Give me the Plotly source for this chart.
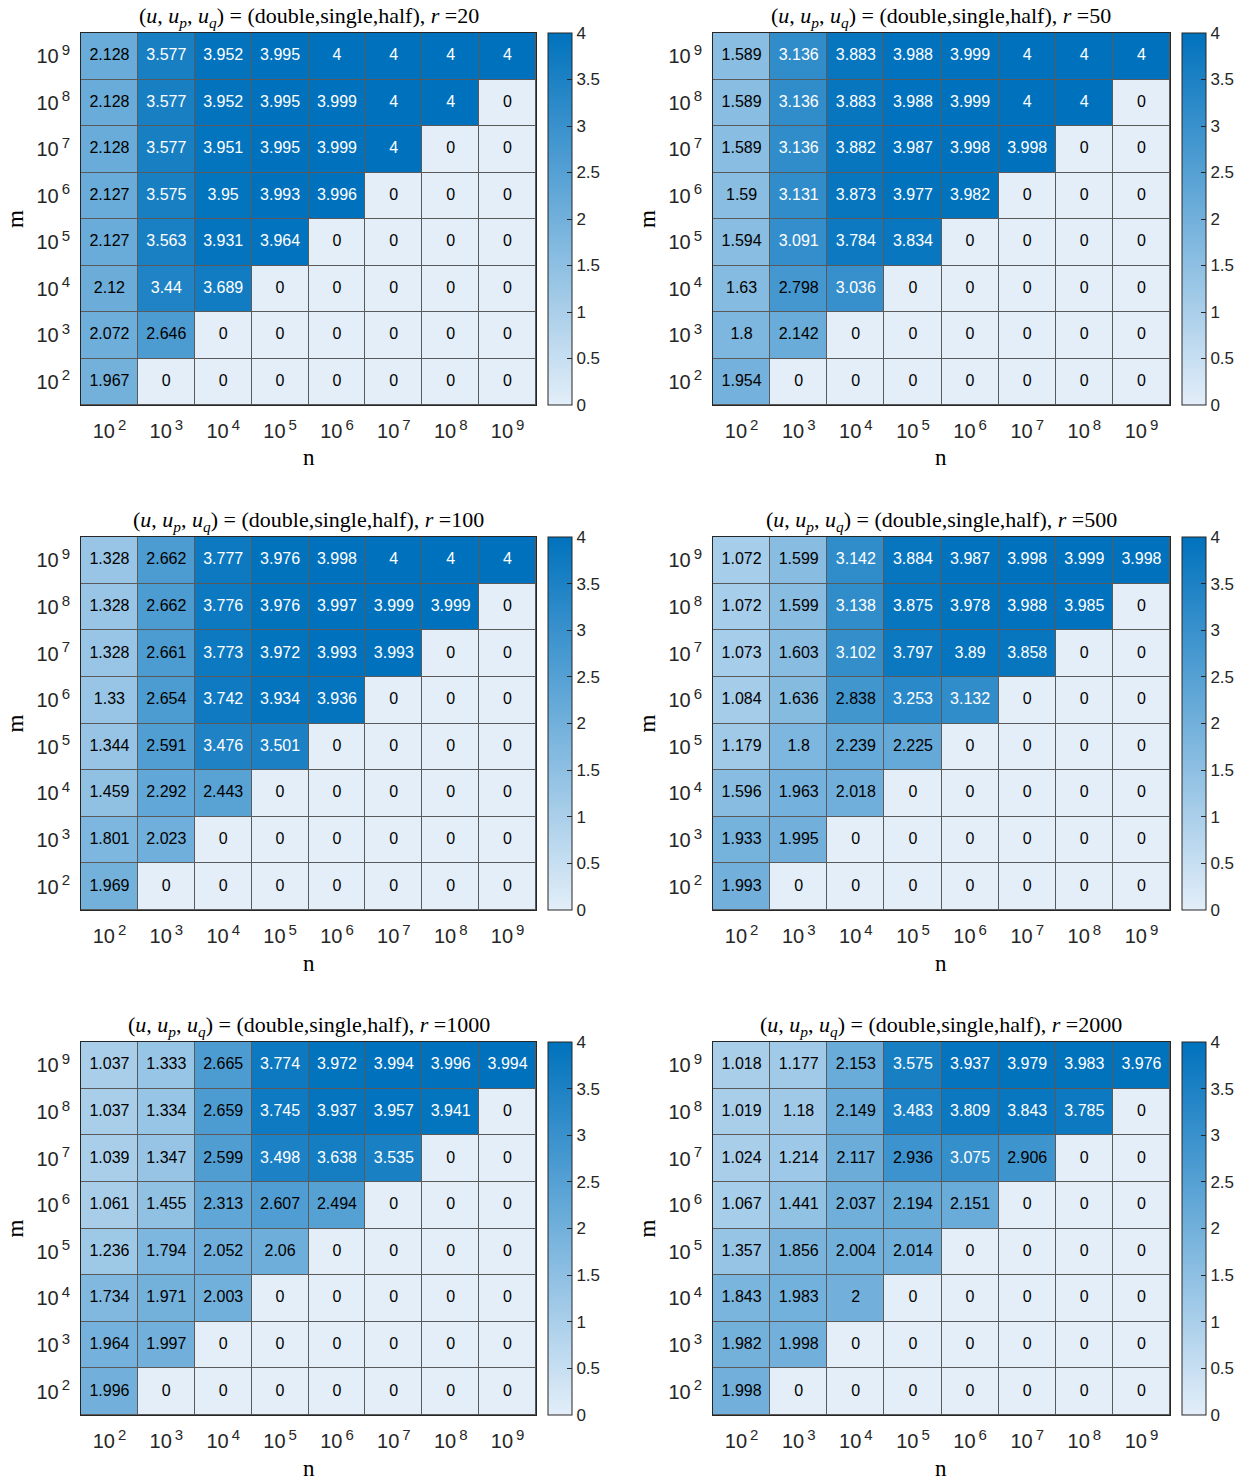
import plotly.graph_objects as go

W, H = 1251, 1482
OFF = 8  # page body margin in the browser

n_values = ["1e%d" % k for k in range(2, 10)]
m_values = ["1e%d" % k for k in range(2, 10)]  # bottom -> top
tick_text = ["10<sup><span style='font-size:15px'>\u2009%d</span></sup>" % k for k in range(2, 10)]

r_values = [20, 50, 100, 500, 1000, 2000]

# rows listed top (m=1e9) to bottom (m=1e2); columns n = 1e2 .. 1e9
data_r20 = [
    [2.128, 3.577, 3.952, 3.995, 4, 4, 4, 4],
    [2.128, 3.577, 3.952, 3.995, 3.999, 4, 4, 0],
    [2.128, 3.577, 3.951, 3.995, 3.999, 4, 0, 0],
    [2.127, 3.575, 3.95, 3.993, 3.996, 0, 0, 0],
    [2.127, 3.563, 3.931, 3.964, 0, 0, 0, 0],
    [2.12, 3.44, 3.689, 0, 0, 0, 0, 0],
    [2.072, 2.646, 0, 0, 0, 0, 0, 0],
    [1.967, 0, 0, 0, 0, 0, 0, 0],
]
data_r50 = [
    [1.589, 3.136, 3.883, 3.988, 3.999, 4, 4, 4],
    [1.589, 3.136, 3.883, 3.988, 3.999, 4, 4, 0],
    [1.589, 3.136, 3.882, 3.987, 3.998, 3.998, 0, 0],
    [1.59, 3.131, 3.873, 3.977, 3.982, 0, 0, 0],
    [1.594, 3.091, 3.784, 3.834, 0, 0, 0, 0],
    [1.63, 2.798, 3.036, 0, 0, 0, 0, 0],
    [1.8, 2.142, 0, 0, 0, 0, 0, 0],
    [1.954, 0, 0, 0, 0, 0, 0, 0],
]
data_r100 = [
    [1.328, 2.662, 3.777, 3.976, 3.998, 4, 4, 4],
    [1.328, 2.662, 3.776, 3.976, 3.997, 3.999, 3.999, 0],
    [1.328, 2.661, 3.773, 3.972, 3.993, 3.993, 0, 0],
    [1.33, 2.654, 3.742, 3.934, 3.936, 0, 0, 0],
    [1.344, 2.591, 3.476, 3.501, 0, 0, 0, 0],
    [1.459, 2.292, 2.443, 0, 0, 0, 0, 0],
    [1.801, 2.023, 0, 0, 0, 0, 0, 0],
    [1.969, 0, 0, 0, 0, 0, 0, 0],
]
data_r500 = [
    [1.072, 1.599, 3.142, 3.884, 3.987, 3.998, 3.999, 3.998],
    [1.072, 1.599, 3.138, 3.875, 3.978, 3.988, 3.985, 0],
    [1.073, 1.603, 3.102, 3.797, 3.89, 3.858, 0, 0],
    [1.084, 1.636, 2.838, 3.253, 3.132, 0, 0, 0],
    [1.179, 1.8, 2.239, 2.225, 0, 0, 0, 0],
    [1.596, 1.963, 2.018, 0, 0, 0, 0, 0],
    [1.933, 1.995, 0, 0, 0, 0, 0, 0],
    [1.993, 0, 0, 0, 0, 0, 0, 0],
]
data_r1000 = [
    [1.037, 1.333, 2.665, 3.774, 3.972, 3.994, 3.996, 3.994],
    [1.037, 1.334, 2.659, 3.745, 3.937, 3.957, 3.941, 0],
    [1.039, 1.347, 2.599, 3.498, 3.638, 3.535, 0, 0],
    [1.061, 1.455, 2.313, 2.607, 2.494, 0, 0, 0],
    [1.236, 1.794, 2.052, 2.06, 0, 0, 0, 0],
    [1.734, 1.971, 2.003, 0, 0, 0, 0, 0],
    [1.964, 1.997, 0, 0, 0, 0, 0, 0],
    [1.996, 0, 0, 0, 0, 0, 0, 0],
]
data_r2000 = [
    [1.018, 1.177, 2.153, 3.575, 3.937, 3.979, 3.983, 3.976],
    [1.019, 1.18, 2.149, 3.483, 3.809, 3.843, 3.785, 0],
    [1.024, 1.214, 2.117, 2.936, 3.075, 2.906, 0, 0],
    [1.067, 1.441, 2.037, 2.194, 2.151, 0, 0, 0],
    [1.357, 1.856, 2.004, 2.014, 0, 0, 0, 0],
    [1.843, 1.983, 2, 0, 0, 0, 0, 0],
    [1.982, 1.998, 0, 0, 0, 0, 0, 0],
    [1.998, 0, 0, 0, 0, 0, 0, 0],
]
panels = [data_r20, data_r50, data_r100, data_r500, data_r1000, data_r2000]

# layout geometry (screen pixels, corrected for body margin below)
col_x = [(81, 536), (713, 1170)]
cb_x = [548, 1182]
row_y = [(33, 405), (537, 910), (1042, 1415)]


def px(v):
    return (v - OFF) / W


def py(v):
    return 1 - (v - OFF) / H


fig = go.Figure()
colorscale = [[0, "#e3eef9"], [1, "#0072bd"]]
SANS = "Liberation Sans, Arial, sans-serif"
SERIF = "Liberation Serif, Times New Roman, serif"

for i, (r, data) in enumerate(zip(r_values, panels)):
    row, col = divmod(i, 2)
    ax = "" if i == 0 else str(i + 1)
    xa, ya = "x" + ax, "y" + ax
    z = data[::-1]  # bottom -> top
    x0, x1 = col_x[col]
    yt, yb = row_y[row]
    fig.add_trace(go.Heatmap(
        z=z, x=n_values, y=m_values, xaxis=xa, yaxis=ya,
        colorscale=colorscale, zmin=0, zmax=4, xgap=1, ygap=1,
        hoverinfo="skip",
        colorbar=dict(
            x=px(cb_x[col]), xanchor="left", xpad=0, ypad=0,
            y=py(yt), yanchor="top", len=(yb - yt) / H, lenmode="fraction",
            thickness=24, outlinewidth=1, outlinecolor="#262626",
            tickvals=[0, 0.5, 1, 1.5, 2, 2.5, 3, 3.5, 4],
            ticktext=["0", "0.5", "1", "1.5", "2", "2.5", "3", "3.5", "4"],
            ticks="inside", ticklen=5, tickcolor="#262626",
            tickfont=dict(family=SANS, size=17, color="#262626"),
        ),
    ))
    xs, ys, ts, cs = [], [], [], []
    for yi, rowvals in enumerate(z):
        for xi, v in enumerate(rowvals):
            xs.append(n_values[xi])
            ys.append(m_values[yi])
            ts.append("{:g}".format(v))
            cs.append("#ffffff" if v > 3.0 else "#000000")
    fig.add_trace(go.Scatter(
        x=xs, y=ys, text=ts, mode="text", xaxis=xa, yaxis=ya,
        textfont=dict(family=SANS, size=16, color=cs),
        hoverinfo="skip", showlegend=False,
    ))
    axis_common = dict(
        showgrid=False, zeroline=False, ticks="", showline=True, mirror=True,
        linecolor="#262626", linewidth=1, type="category",
        tickfont=dict(family=SANS, size=20, color="#262626"),
    )
    fig.layout["xaxis" + ax] = dict(
        axis_common, domain=[px(x0), px(x1)], anchor=ya,
        categoryorder="array", categoryarray=n_values,
        tickmode="array", tickvals=n_values, ticktext=tick_text,
        ticklabelstandoff=8,
    )
    fig.layout["yaxis" + ax] = dict(
        axis_common, domain=[py(yb), py(yt)], anchor=xa,
        categoryorder="array", categoryarray=m_values,
        tickmode="array", tickvals=m_values, ticktext=tick_text,
        ticklabelstandoff=6,
    )
    xc = (px(x0) + px(x1)) / 2
    fig.add_annotation(
        x=xc, y=py(yt - 16), xref="paper", yref="paper",
        xanchor="center", yanchor="middle", showarrow=False,
        text="(<i>u</i>, <i>u</i><sub><i>p</i></sub>, <i>u</i><sub><i>q</i></sub>) = (double,single,half), <i>r</i> =%d" % r,
        font=dict(family=SERIF, size=22, color="#000000"),
    )
    fig.add_annotation(
        x=xc, y=py(yb + 53), xref="paper", yref="paper",
        xanchor="center", yanchor="middle", showarrow=False,
        text="n", font=dict(family=SERIF, size=23, color="#000000"),
    )
    fig.add_annotation(
        x=px(x0 - 66), y=(py(yt) + py(yb)) / 2, xref="paper", yref="paper",
        xanchor="center", yanchor="middle", showarrow=False, textangle=-90,
        text="m", font=dict(family=SERIF, size=23, color="#000000"),
    )

fig.update_layout(
    width=W, height=H, margin=dict(l=0, r=0, t=0, b=0),
    paper_bgcolor="#ffffff", plot_bgcolor="#5a5a5a",
    showlegend=False,
)
fig.write_html("out.html")
